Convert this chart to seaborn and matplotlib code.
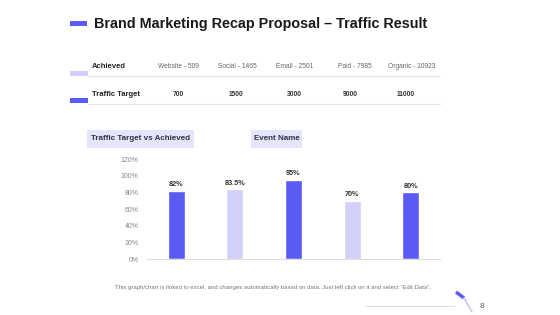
import matplotlib
matplotlib.use("Agg")
import matplotlib.pyplot as plt
import seaborn as sns
import pandas as pd
from matplotlib.patches import Rectangle
from matplotlib.lines import Line2D

# data
channels = ["Website", "Social", "Email", "Paid", "Organic"]
achieved = [509, 1465, 2501, 7985, 10923]
targets = [700, 1500, 3000, 9000, 11000]
pct_achieved = [82, 83.5, 95, 70, 80]
pct_labels = ["82%", "83.5%", "95%", "70%", "80%"]
y_ticks = [0, 20, 40, 60, 80, 100, 120]

DARK = "#5a5af5"
LIGHT = "#d0d0f8"
BOX = "#e4e4fb"

sns.set_theme(style="white")
plt.rcParams["font.family"] = ["Liberation Sans", "DejaVu Sans"]

W, H = 560, 315
fig = plt.figure(figsize=(5.6, 3.15), dpi=100)


def fx(x):
    return x / W


def fy(y):
    return 1 - y / H


def rect(x0, y0, x1, y1, color):
    fig.patches.append(Rectangle((fx(x0), fy(y1)), fx(x1 - x0), (y1 - y0) / H,
                                 transform=fig.transFigure, color=color, lw=0))


def hline(x0, x1, y, color="#e3e3e3", lw=0.8):
    fig.lines.append(Line2D([fx(x0), fx(x1)], [fy(y), fy(y)],
                            transform=fig.transFigure, color=color, lw=lw))


# title
rect(70, 21, 87, 26, DARK)
fig.text(fx(94), fy(24), "Brand Marketing Recap Proposal \u2013 Traffic Result",
         fontsize=10.4, fontweight="bold", color="#1a1a1a", va="center")

# achieved row
rect(70, 71, 88, 76, LIGHT)
fig.text(fx(92), fy(67), "Achieved", fontsize=5.5, fontweight="bold", color="#222222", va="center")
ach_x = [158, 218, 276, 338, 388]
for x, name, v in zip(ach_x, channels, achieved):
    fig.text(fx(x), fy(67), f"{name} - {v}", fontsize=4.8, color="#666666", va="center")
hline(88, 440, 76)

# target row
rect(70, 98, 88, 103, DARK)
fig.text(fx(92), fy(95), "Traffic Target", fontsize=5.5, fontweight="bold", color="#222222", va="center")
tgt_x = [178, 236, 294, 350, 406]
for x, v in zip(tgt_x, targets):
    fig.text(fx(x), fy(95), str(v), fontsize=4.8, fontweight="bold", color="#333333",
             va="center", ha="center")
hline(88, 440, 104)

# sub-headers
rect(87, 130, 194, 148, BOX)
fig.text(fx(140.5), fy(139), "Traffic Target vs Achieved", fontsize=5.8, fontweight="bold",
         color="#333344", ha="center", va="center")
rect(251, 130, 302, 148, BOX)
fig.text(fx(276.5), fy(139), "Event Name", fontsize=5.8, fontweight="bold",
         color="#333344", ha="center", va="center")

# bar chart
ax = fig.add_axes([fx(147), fy(259), fx(440 - 147), 100 / H])
df = pd.DataFrame({"channel": channels, "pct": pct_achieved})
palette = [DARK, LIGHT, DARK, LIGHT, DARK]
sns.barplot(data=df, x="channel", y="pct", hue="channel", palette=palette,
            width=0.29, legend=False, ax=ax, saturation=1)
ax.set_ylim(0, 120)
ax.set_yticks(y_ticks)
ax.set_yticklabels([f"{t}%" for t in y_ticks])
ax.tick_params(axis="y", labelsize=5, labelcolor="#888888", length=0, pad=6)
ax.set_xticks([])
ax.set_xlabel("")
ax.set_ylabel("")
for s in ["top", "right", "left"]:
    ax.spines[s].set_visible(False)
ax.spines["bottom"].set_color("#dddddd")
ax.spines["bottom"].set_linewidth(0.8)
for i, (v, lab) in enumerate(zip(pct_achieved, pct_labels)):
    ax.text(i, v + 3, lab, fontsize=5.2, fontweight="bold", color="#333333",
            ha="center", va="bottom")

# footer
fig.text(fx(115), fy(288), "This graph/chart is linked to excel, and changes automatically based on data. "
         "Just left click on it and select \u201cEdit Data\u201d.",
         fontsize=4.3, color="#777777", va="center")
hline(365, 455, 306, color="#d8d8ee", lw=0.6)
fig.lines.append(Line2D([fx(456), fx(464)], [fy(292), fy(298)], transform=fig.transFigure,
                        color=DARK, lw=2.5, solid_capstyle="butt"))
fig.lines.append(Line2D([fx(464), fx(472)], [fy(298), fy(312)], transform=fig.transFigure,
                        color="#c8c8f0", lw=1.2))
fig.text(fx(480), fy(306), "8", fontsize=6, color="#555555", va="center")

fig.savefig("out.png", dpi=100)
